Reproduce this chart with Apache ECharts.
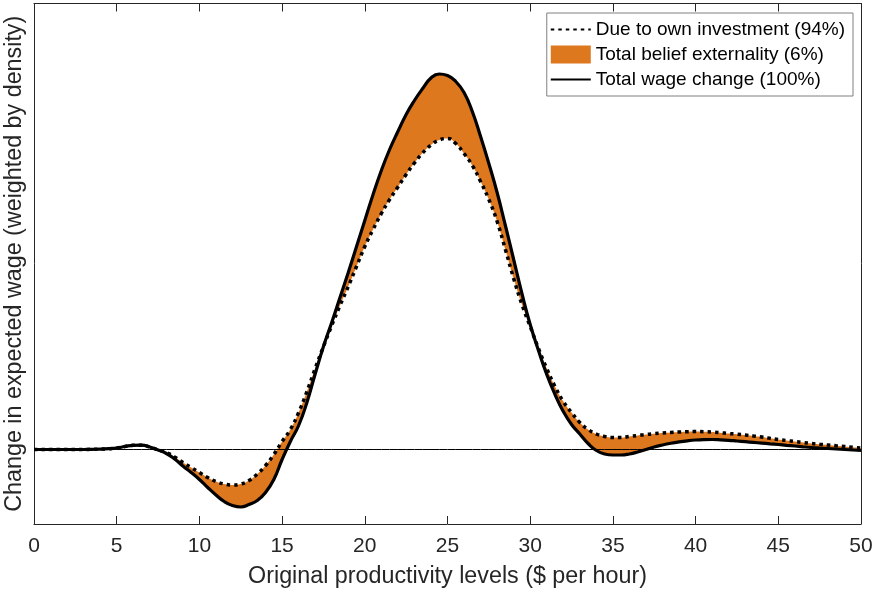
<!DOCTYPE html>
<html>
<head>
<meta charset="utf-8">
<script src="https://cdn.jsdelivr.net/npm/echarts@6/dist/echarts.min.js"></script>
<style>html,body{margin:0;padding:0;background:#fff;}#c{width:873px;height:590px;}</style>
</head>
<body>
<div id="c"></div>
<script>
// Original productivity levels ($ per hour), sampled every 0.5
var xs = [0,0.5,1,1.5,2,2.5,3,3.5,4,4.5,5,5.5,6,6.5,7,7.5,8,8.5,9,9.5,10,10.5,11,11.5,12,12.5,13,13.5,14,14.5,15,15.5,16,16.5,17,17.5,18,18.5,19,19.5,20,20.5,21,21.5,22,22.5,23,23.5,24,24.5,25,25.5,26,26.5,27,27.5,28,28.5,29,29.5,30,30.5,31,31.5,32,32.5,33,33.5,34,34.5,35,35.5,36,36.5,37,37.5,38,38.5,39,39.5,40,40.5,41,41.5,42,42.5,43,43.5,44,44.5,45,45.5,46,46.5,47,47.5,48,48.5,49,49.5,50];
// Total wage change (100%)
var totalWage = [0,0,0,0,0,0,0,0.002,0.004,0.008,0.015,0.03,0.042,0.043,0.025,-0.005,-0.04,-0.095,-0.165,-0.23,-0.30,-0.38,-0.455,-0.52,-0.56,-0.575,-0.55,-0.51,-0.43,-0.3,-0.1,0.08,0.24,0.47,0.755,1.03,1.27,1.52,1.77,2.03,2.29,2.55,2.79,3.0,3.18,3.35,3.49,3.61,3.715,3.755,3.74,3.68,3.57,3.38,3.13,2.86,2.57,2.24,1.9,1.56,1.25,0.99,0.75,0.55,0.38,0.25,0.155,0.06,-0.01,-0.045,-0.055,-0.055,-0.045,-0.025,0.0,0.025,0.045,0.062,0.076,0.087,0.095,0.099,0.10,0.097,0.092,0.085,0.078,0.071,0.064,0.057,0.05,0.042,0.035,0.027,0.02,0.015,0.01,0.005,0.0,-0.005,-0.01];
// Due to own investment (94%)
var ownInvestment = [0,0,0,0,0,0,0,0.002,0.004,0.008,0.015,0.03,0.042,0.043,0.025,-0.003,-0.03,-0.075,-0.13,-0.18,-0.23,-0.28,-0.32,-0.345,-0.355,-0.345,-0.31,-0.245,-0.16,-0.05,0.08,0.2,0.37,0.58,0.81,1.03,1.24,1.44,1.63,1.83,2.03,2.2,2.36,2.5,2.625,2.75,2.865,2.965,3.045,3.095,3.11,3.06,2.96,2.84,2.68,2.5,2.28,2.0,1.71,1.45,1.23,1.01,0.81,0.63,0.48,0.37,0.27,0.2,0.155,0.13,0.12,0.12,0.13,0.14,0.15,0.158,0.165,0.17,0.175,0.178,0.18,0.178,0.175,0.168,0.16,0.153,0.145,0.135,0.125,0.112,0.1,0.09,0.08,0.07,0.06,0.052,0.045,0.037,0.03,0.022,0.015];
var xTicks = [0,5,10,15,20,25,30,35,40,45,50];

var names = ['Due to own investment (94%)', 'Total belief externality (6%)', 'Total wage change (100%)'];
var ORANGE = '#DE781E';
var AX = '#262626';
var FONT = 'Liberation Sans, Arial, Helvetica, sans-serif';
var SMOOTH = 0.5;

var band = totalWage.map(function (v, i) { return v - ownInvestment[i]; });
var cats = xs.map(String);
function tickShown(idx, val) { return xTicks.indexOf(Number(val)) >= 0; }

var chart = echarts.init(document.getElementById('c'), null, {renderer: 'canvas'});
var option = {
  animation: false,
  backgroundColor: '#fff',
  textStyle: {fontFamily: FONT},
  grid: {left: 34, right: 12, top: 3.5, bottom: 66, containLabel: false, outerBoundsMode: 'none'},
  legend: {
    orient: 'vertical', right: 20, top: 13,
    data: [
      {name: names[0], itemStyle: {color: 'rgba(0,0,0,0)', opacity: 0, borderWidth: 0}},
      {name: names[1], icon: 'rect', itemStyle: {color: ORANGE}},
      {name: names[2], itemStyle: {color: 'rgba(0,0,0,0)', opacity: 0, borderWidth: 0}}
    ],
    itemWidth: 40, itemHeight: 18, itemGap: 6, itemTextGap: 4,
    padding: [7, 8, 7, 3],
    borderColor: '#808080', borderWidth: 1, backgroundColor: '#fff',
    textStyle: {fontSize: 19, color: '#000', fontFamily: FONT},
    selectedMode: false
  },
  xAxis: [{
    type: 'category', data: cats, boundaryGap: false, position: 'bottom',
    axisLine: {show: true, onZero: false, lineStyle: {color: AX, width: 1}},
    axisTick: {show: true, inside: true, length: 8, interval: tickShown, lineStyle: {color: AX}},
    axisLabel: {show: true, fontSize: 21, color: AX, margin: 12, fontFamily: FONT, interval: tickShown},
    splitLine: {show: false},
    name: 'Original productivity levels ($ per hour)', nameLocation: 'middle', nameGap: 41,
    nameTextStyle: {fontSize: 23.3, color: AX, fontFamily: FONT}
  }, {
    type: 'category', data: cats, boundaryGap: false, position: 'top',
    axisLine: {show: true, onZero: false, lineStyle: {color: AX, width: 1}},
    axisTick: {show: true, inside: true, length: 8, interval: tickShown, lineStyle: {color: AX}},
    axisLabel: {show: false}, splitLine: {show: false}
  }],
  yAxis: [{
    type: 'value', min: -0.745, max: 4.46, position: 'left',
    axisLine: {show: true, onZero: false, lineStyle: {color: AX, width: 1}},
    axisTick: {show: false}, axisLabel: {show: false}, splitLine: {show: false},
    name: 'Change in expected wage (weighted by density)', nameLocation: 'middle', nameGap: 8,
    nameTextStyle: {fontSize: 23.3, color: AX, fontFamily: FONT}
  }, {
    type: 'value', min: -0.745, max: 4.46, position: 'right',
    axisLine: {show: true, onZero: false, lineStyle: {color: AX, width: 1}},
    axisTick: {show: false}, axisLabel: {show: false}, splitLine: {show: false}
  }],
  series: [
    {
      name: '_base', type: 'line', data: ownInvestment, stack: 'band', stackStrategy: 'all',
      symbol: 'none', smooth: SMOOTH, silent: true, lineStyle: {width: 0, opacity: 0}, z: 1
    },
    {
      name: names[1], type: 'line', data: band, stack: 'band', stackStrategy: 'all',
      symbol: 'none', smooth: SMOOTH, silent: true, color: ORANGE,
      itemStyle: {color: ORANGE},
      lineStyle: {width: 0, opacity: 0}, areaStyle: {color: ORANGE, opacity: 1}, z: 2
    },
    {
      name: '_zero', type: 'line', data: xs.map(function () { return 0; }), symbol: 'none', silent: true,
      lineStyle: {color: '#000', width: 1}, z: 3
    },
    {
      name: names[0], type: 'line', data: ownInvestment, symbol: 'none', smooth: SMOOTH,
      color: '#000', lineStyle: {color: '#000', width: 3.5, type: [3.5, 4], cap: 'butt'}, z: 4
    },
    {
      name: names[2], type: 'line', data: totalWage, symbol: 'none', smooth: SMOOTH,
      color: '#000', lineStyle: {color: '#000', width: 3.2}, z: 5
    }
  ]
};
chart.setOption(option);
</script>
</body>
</html>
